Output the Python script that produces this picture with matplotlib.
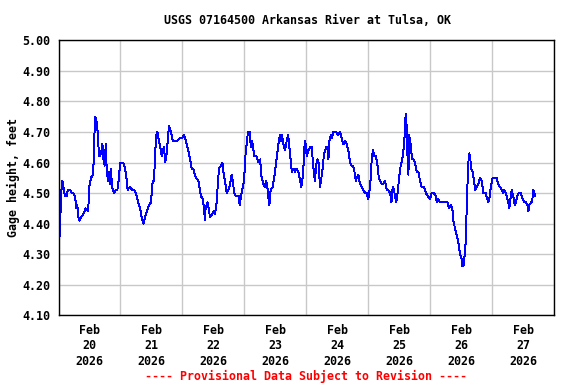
import datetime as dt
import matplotlib
matplotlib.use("Agg")
import matplotlib.pyplot as plt
import matplotlib.dates as mdates
from matplotlib.ticker import MultipleLocator, FormatStrFormatter

# hours since 2026-02-20 00:00 (local)
hours = [
    0.2, 0.6, 1.0, 1.5, 1.9, 2.5, 3.2, 3.6, 4.5, 5.1, 5.7, 6.4, 6.9, 7.3, 7.7, 8.1,
    8.7, 9.6, 10.5, 11.5, 11.9, 12.6, 13.3, 13.6, 13.9, 14.3, 14.6, 15.0, 15.4, 15.8,
    16.4, 16.7, 17.0, 17.5, 17.9, 18.3, 18.7, 19.2, 19.6, 19.8, 20.2, 20.6, 21.0, 21.6,
    22.2, 22.8, 23.3, 23.9, 25.1, 25.8, 26.3, 26.8, 27.6, 28.6, 29.4, 30.3, 30.9, 31.6,
    32.2, 32.9, 33.5, 34.2, 35.1, 35.8, 36.5, 37.0, 37.5, 37.9, 38.3, 38.9, 39.7, 40.0,
    40.4, 40.9, 41.3, 41.9, 42.8, 43.6, 44.3, 45.8, 47.1, 48.0, 48.6,
    49.0, 49.7, 50.3, 51.0, 51.6, 52.2, 53.2, 54.2, 54.8, 55.2, 55.9, 56.4, 56.7, 57.0,
    57.7, 58.2, 58.7, 59.4, 60.0, 60.6, 61.3, 61.8, 62.2, 62.9, 63.5, 63.9, 64.5, 65.2,
    65.8, 66.5, 67.1, 67.5, 68.1, 68.8, 69.8, 70.2, 70.7, 71.4, 71.9, 72.4, 72.9, 73.4,
    73.8, 74.1, 74.5, 74.9, 75.3, 75.8, 76.8, 77.4, 78.1, 78.7, 79.4, 80.0, 80.5, 81.1,
    81.5, 81.7, 82.2, 83.0, 83.9, 84.6, 85.2, 85.8, 86.2, 86.6, 87.1, 87.8, 88.4, 89.0,
    89.7, 90.4, 91.0, 91.6, 92.3, 92.9, 93.6, 94.1, 94.6, 95.1, 95.3, 95.6, 96.2, 96.8,
    97.5, 98.1, 98.5, 99.0, 99.4, 99.8, 100.3, 100.8, 101.3, 101.7, 102.2, 102.9, 103.7,
    104.2, 104.6, 104.9, 105.6, 106.0, 106.5, 107.0, 107.5, 108.4, 109.1, 109.7, 110.4,
    111.0, 111.7, 112.3, 113.0, 113.5, 114.0, 114.5, 115.2, 115.6, 116.2, 116.8, 117.5,
    118.1, 118.8, 119.4, 120.0, 120.4, 121.0, 121.4, 121.9, 122.4, 123.0, 123.5, 124.1,
    124.6, 125.2, 125.9, 126.5, 127.2, 127.8, 128.5, 129.0, 129.5, 130.0, 130.4, 130.9,
    131.4, 132.1, 132.6, 133.4, 133.9, 134.3, 134.5, 134.9, 135.3, 135.6, 135.8, 136.3,
    137.0, 137.5, 138.1, 138.8, 139.4, 140.1, 140.7, 141.6, 142.4, 143.1, 144.0,
    144.6, 145.5, 146.2, 146.6, 147.2, 147.8, 149.1, 150.7, 151.3, 152.0, 152.6, 153.0,
    153.5, 154.3, 154.9, 155.6, 156.1, 156.5, 156.9, 157.2, 157.8, 158.2, 158.6, 158.9,
    159.2, 159.6, 159.9, 160.5, 161.0, 161.5, 162.1, 162.7, 163.3, 164.0, 164.6, 165.5,
    166.2, 166.6, 167.1, 167.5, 168.2, 168.8, 169.8, 170.3, 171.1, 171.7, 172.4, 172.8,
    173.4, 173.9, 174.3, 174.7, 175.1, 175.6, 176.2, 176.8, 177.2, 177.8, 178.3, 179.1,
    179.9, 180.5, 181.2, 181.7, 182.1, 182.4, 183.1, 183.5, 184.0, 184.4, 184.7,
]

gage_ft = [
    4.33, 4.39, 4.50, 4.54, 4.52, 4.49, 4.49, 4.51, 4.51, 4.50, 4.50, 4.49, 4.45, 4.46, 4.42, 4.41,
    4.42, 4.43, 4.45, 4.44, 4.52, 4.55, 4.56, 4.60, 4.69, 4.75, 4.74, 4.72, 4.66, 4.62,
    4.63, 4.64, 4.66, 4.60, 4.59, 4.66, 4.57, 4.54, 4.57, 4.53, 4.58, 4.54, 4.51, 4.50,
    4.51, 4.51, 4.54, 4.60, 4.60, 4.58, 4.55, 4.51, 4.52, 4.51, 4.51, 4.49, 4.47, 4.45,
    4.42, 4.40, 4.42, 4.44, 4.46, 4.47, 4.54, 4.54, 4.64, 4.69, 4.70, 4.67, 4.64, 4.62,
    4.64, 4.65, 4.60, 4.63, 4.72, 4.70, 4.67, 4.67, 4.68, 4.68, 4.69,
    4.68, 4.66, 4.64, 4.61, 4.58, 4.58, 4.55, 4.54, 4.51, 4.49, 4.48, 4.45, 4.41, 4.45,
    4.47, 4.45, 4.42, 4.43, 4.44, 4.43, 4.47, 4.54, 4.58, 4.59, 4.60, 4.57, 4.54, 4.50,
    4.51, 4.53, 4.56, 4.54, 4.50, 4.49, 4.49, 4.46, 4.49, 4.52, 4.54, 4.62, 4.66, 4.70,
    4.70, 4.70, 4.65, 4.67, 4.66, 4.62, 4.62, 4.60, 4.61, 4.55, 4.53, 4.52, 4.54, 4.51,
    4.47, 4.46, 4.51, 4.52, 4.57, 4.62, 4.66, 4.69, 4.67, 4.69, 4.66, 4.64, 4.67, 4.69,
    4.63, 4.57, 4.58, 4.57, 4.58, 4.57, 4.54, 4.52, 4.55, 4.61, 4.65, 4.67, 4.62, 4.64,
    4.65, 4.65, 4.61, 4.56, 4.54, 4.59, 4.61, 4.60, 4.52, 4.54, 4.57, 4.63, 4.65,
    4.65, 4.61, 4.67, 4.69, 4.68, 4.70, 4.70, 4.70, 4.69, 4.70, 4.68, 4.66,
    4.67, 4.66, 4.64, 4.60, 4.59, 4.59, 4.58, 4.54, 4.55, 4.56, 4.53, 4.52,
    4.51, 4.50, 4.50, 4.48, 4.50, 4.55, 4.62, 4.64, 4.62, 4.62, 4.60, 4.55,
    4.54, 4.53, 4.53, 4.54, 4.51, 4.51, 4.50, 4.47, 4.52, 4.51, 4.49, 4.47,
    4.50, 4.56, 4.59, 4.62, 4.66, 4.71, 4.76, 4.72, 4.60, 4.56, 4.69, 4.67,
    4.61, 4.61, 4.60, 4.57, 4.57, 4.54, 4.52, 4.52, 4.50, 4.49, 4.48,
    4.50, 4.50, 4.49, 4.47, 4.48, 4.47, 4.47, 4.47, 4.45, 4.46, 4.45, 4.41,
    4.39, 4.36, 4.34, 4.30, 4.29, 4.26, 4.26, 4.28, 4.34, 4.46, 4.56, 4.61,
    4.63, 4.61, 4.58, 4.57, 4.54, 4.51, 4.52, 4.53, 4.55, 4.54, 4.50, 4.50,
    4.48, 4.47, 4.49, 4.52, 4.55, 4.55, 4.55, 4.53, 4.52, 4.51, 4.50, 4.51,
    4.50, 4.48, 4.47, 4.45, 4.48, 4.51, 4.49, 4.46, 4.47, 4.49, 4.50, 4.50,
    4.48, 4.47, 4.47, 4.46, 4.44, 4.46, 4.47, 4.47, 4.51, 4.50, 4.49,
]

start = dt.datetime(2026, 2, 20)
end = dt.datetime(2026, 2, 28)
times = [start + dt.timedelta(hours=h) for h in hours]

title = "USGS 07164500 Arkansas River at Tulsa, OK"
ylabel = "Gage height, feet"
note = "---- Provisional Data Subject to Revision ----"

font = {"family": "DejaVu Sans Mono", "weight": "bold", "size": 8.4}

fig = plt.figure(figsize=(5.76, 3.84), dpi=100)
ax = fig.add_axes([0.1016, 0.179, 0.8602, 0.716])

ax.plot(times, gage_ft, color="#0000ff", lw=0.7, antialiased=False)

ax.set_xlim(start, end)
ax.set_ylim(4.10, 5.00)
ax.yaxis.set_major_locator(MultipleLocator(0.1))
ax.yaxis.set_major_formatter(FormatStrFormatter("%.2f"))

ax.xaxis.set_major_locator(mdates.DayLocator())
ax.xaxis.set_major_formatter(plt.NullFormatter())
ax.xaxis.set_minor_locator(mdates.HourLocator(byhour=12))
ax.xaxis.set_minor_formatter(mdates.DateFormatter("%b\n%d\n%Y"))

ax.grid(True, which="major", color="#c8c8c8", lw=1.0)
ax.set_axisbelow(True)
ax.tick_params(which="both", length=0)
ax.tick_params(axis="y", pad=6)
ax.tick_params(axis="x", which="minor", pad=6)
for lbl in ax.get_yticklabels() + ax.get_xticklabels(minor=True):
    lbl.set_fontfamily(font["family"])
    lbl.set_fontweight("bold")
    lbl.set_fontsize(font["size"])
    lbl.set_linespacing(1.25)

for sp in ax.spines.values():
    sp.set_color("black")
    sp.set_linewidth(1.0)

ax.set_ylabel(ylabel, fontdict=font)
ax.yaxis.set_label_coords(-0.077, 0.5)
fig.text(0.534, 1 - 21 / 384, title, ha="center", va="center", **font)
fig.text(0.531, 1 - 376 / 384, note, ha="center", va="center", color="#ff0000", **font)

fig.savefig("out.png", dpi=100)
